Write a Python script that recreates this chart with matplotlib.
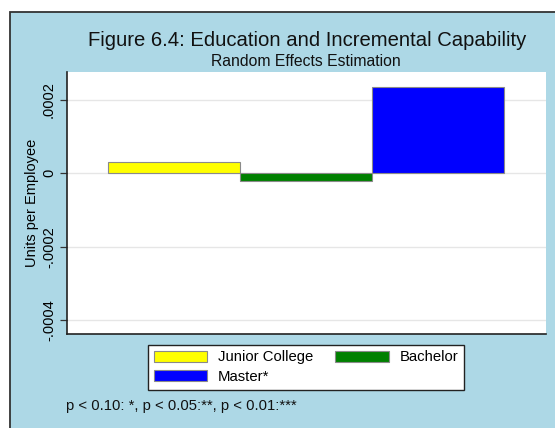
import matplotlib.pyplot as plt
from matplotlib.patches import Rectangle, Patch

# Random effects estimates by education level
categories = ["Junior College", "Bachelor", "Master*"]
estimates = [0.00003, -0.00002, 0.000236]
bar_colors = ["#ffff00", "#008000", "#0000ff"]
ytick_vals = [-0.0004, -0.0002, 0, 0.0002]
ytick_labels = ["-.0004", "-.0002", "0", ".0002"]

W, H = 555, 428
plt.rcParams["font.family"] = ["Liberation Sans", "DejaVu Sans"]
fig = plt.figure(figsize=(W / 100, H / 100), dpi=100)
fig.patch.set_facecolor("white")

# light blue graph region with dark top/left border
bg = Rectangle((9.5 / W, -0.1), 1.2, (H - 11.5) / H + 0.1, transform=fig.transFigure,
               facecolor="#add8e6", edgecolor="#333333", linewidth=1.3, zorder=-5)
fig.patches.append(bg)

ax = fig.add_axes([67 / W, (H - 334) / H, (546 - 67) / W, (334 - 72) / H])
ax.set_zorder(2)
ax.set_facecolor("white")

xpos = [0.5, 1.5, 2.5]
ax.bar(xpos, estimates, width=1.0, color=bar_colors, edgecolor="#8a8a8a",
       linewidth=0.8, zorder=3)

ax.set_xlim(-0.31, 3.32)
ax.set_ylim(-0.000438, 0.000276)
ax.set_xticks([])
ax.set_yticks(ytick_vals)
ax.set_yticklabels(ytick_labels, rotation=90, va="center", fontsize=10.5)
ax.tick_params(axis="y", length=5, width=0.9, color="#333333", pad=3)
ax.grid(axis="y", color="#e6e6e6", linewidth=1, zorder=0)
ax.set_axisbelow(True)
for side in ["top", "right"]:
    ax.spines[side].set_visible(False)
for side in ["left", "bottom"]:
    ax.spines[side].set_color("#222222")
    ax.spines[side].set_linewidth(1.2)
ax.set_ylabel("Units per Employee", fontsize=10.5, labelpad=2)

fig.text(307 / W, 1 - 40 / H, "Figure 6.4: Education and Incremental Capability",
         ha="center", va="center", fontsize=14.6, color="#111111")
fig.text(306 / W, 1 - 61 / H, "Random Effects Estimation",
         ha="center", va="center", fontsize=11.3, color="#111111")

# legend fills row-wise: Junior College, Bachelor / Master*
handles = [Patch(facecolor=c, edgecolor="#8a8a8a", linewidth=0.8) for c in bar_colors]
order = [0, 2, 1]
leg = fig.legend([handles[i] for i in order], [categories[i] for i in order], ncol=2,
                 loc="upper left", bbox_to_anchor=(148 / W, 1 - 344.5 / H), fontsize=10.7,
                 frameon=True, fancybox=False, edgecolor="#222222", facecolor="white",
                 framealpha=1, handlelength=3.6, handleheight=0.8, handletextpad=0.7,
                 columnspacing=1.5, labelspacing=0.35, borderpad=0.4,
                 borderaxespad=0)
leg.get_frame().set_linewidth(1.0)

fig.text(66 / W, 1 - 406 / H, "p < 0.10: *, p < 0.05:**, p < 0.01:***",
         ha="left", va="center", fontsize=10.7, color="#111111")

fig.savefig("out.png", dpi=100)
